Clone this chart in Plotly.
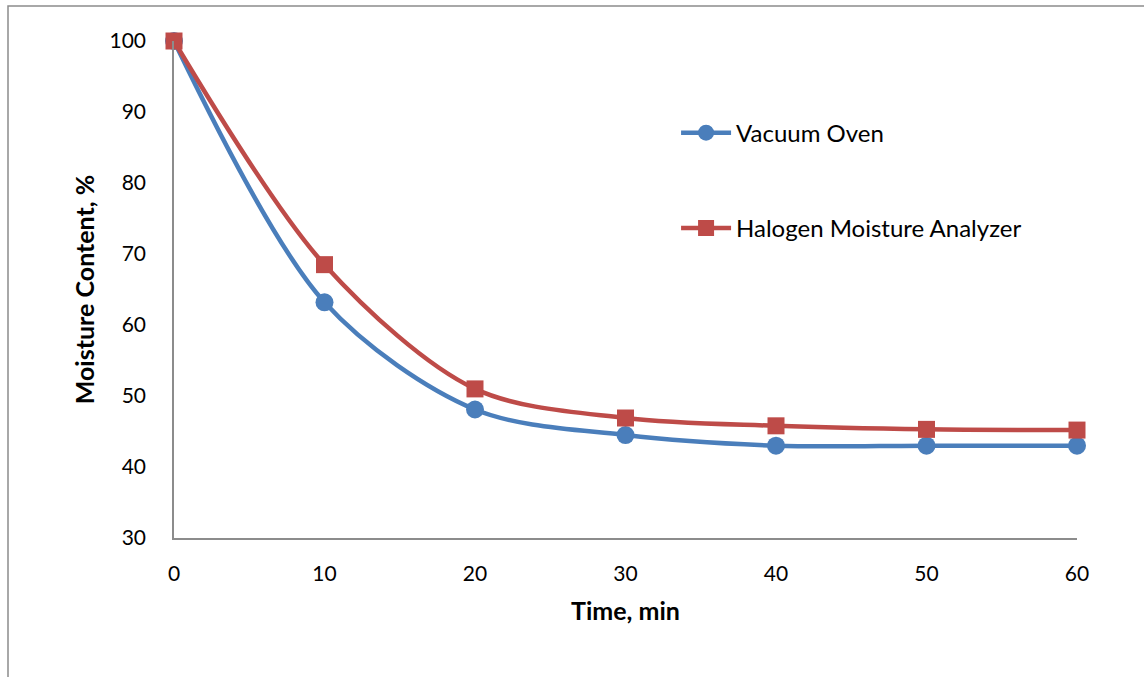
import plotly.graph_objects as go

# Drying curves: moisture content over time for two measurement methods
time_min = [0, 10, 20, 30, 40, 50, 60]
vacuum_oven = [100, 63.2, 48.1, 44.5, 43.0, 43.0, 43.0]
halogen_analyzer = [100, 68.5, 51.0, 46.9, 45.8, 45.3, 45.2]

BLUE = "#4A7EBB"
RED = "#BE4B48"
FONT = "Lato, 'Open Sans', sans-serif"

fig = go.Figure()
fig.add_trace(go.Scatter(
    x=time_min, y=vacuum_oven, name="Vacuum Oven", legendgroup="a",
    mode="lines+markers", line=dict(color=BLUE, width=4.5, shape="spline", smoothing=0.9),
    marker=dict(symbol="circle", size=18, color=BLUE),
))
fig.add_trace(go.Scatter(
    x=time_min, y=halogen_analyzer, name="Halogen Moisture Analyzer", legendgroup="b",
    mode="lines+markers", line=dict(color=RED, width=4.5, shape="spline", smoothing=0.9),
    marker=dict(symbol="square", size=17, color=RED),
))

axis_common = dict(showgrid=False, zeroline=False, showline=True, linecolor="#8C8C8C",
                   linewidth=1.5, ticks="", tickfont=dict(family=FONT, size=21, color="#000"))

fig.update_layout(
    width=1144, height=677,
    margin=dict(l=174, r=67, t=41, b=139),
    paper_bgcolor="white", plot_bgcolor="white",
    font=dict(family=FONT, color="#000"),
    xaxis=dict(range=[0, 60], dtick=10, ticklabelstandoff=16,
               title=dict(text="<b>Time, min</b>", font=dict(family=FONT, size=25), standoff=19),
               **axis_common),
    yaxis=dict(range=[30, 100], dtick=10, ticklabelstandoff=22,
               title=dict(text="<b>Moisture Content, %</b>", font=dict(family=FONT, size=25), standoff=8),
               **axis_common),
    legend=dict(x=0.556, y=0.86, xanchor="left", yanchor="top", bgcolor="rgba(0,0,0,0)",
                font=dict(family=FONT, size=24), tracegroupgap=61, itemwidth=50),
    showlegend=True,
    shapes=[dict(type="rect", xref="paper", yref="paper",
                 x0=(8 - 174) / 903, x1=(1150 - 174) / 903,
                 y0=(538 - 690) / 497, y1=(538 - 6) / 497,
                 line=dict(color="#8C8C8C", width=1.5), layer="below")],
)

fig.update_traces(cliponaxis=False)
fig.write_html("out.html")
